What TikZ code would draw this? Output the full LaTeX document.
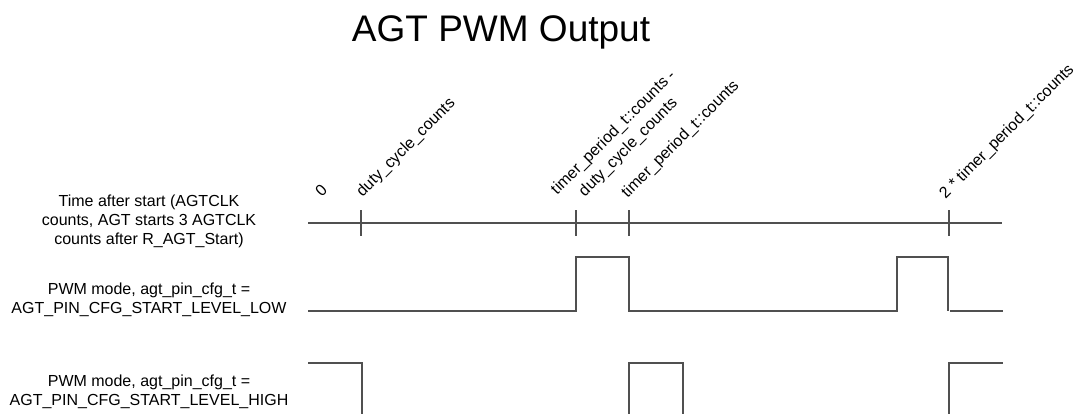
\documentclass[tikz,border=0pt]{standalone}
\usepackage{fontspec}
\setmainfont{Liberation Sans}
\definecolor{linegray}{RGB}{80,80,80}

\begin{document}
\begin{tikzpicture}[
    x=1pt, y=-1pt,
    rowlabel/.style={align=center, font=\fontsize{16}{19}\selectfont},
    ticklabel/.style={rotate=45, anchor=south west, inner sep=0pt, font=\fontsize{16}{19}\selectfont},
    axis/.style={line width=1.4pt, draw=linegray},
    wave/.style={line width=1.5pt, draw=linegray}
]
\useasboundingbox (0,0) rectangle (1075,414);

\node[anchor=base, font=\fontsize{37}{41}\selectfont] (title) at (501,42) {AGT PWM Output};

% row labels
\node[rowlabel] (timelbl) at (149,221) {Time after start (AGTCLK\\counts, AGT starts 3 AGTCLK\\counts after R\_AGT\_Start)};
\node[rowlabel] (lowlbl) at (149,300) {PWM mode, agt\_pin\_cfg\_t =\\AGT\_PIN\_CFG\_START\_LEVEL\_LOW};
\node[rowlabel] (highlbl) at (149,392) {PWM mode, agt\_pin\_cfg\_t =\\AGT\_PIN\_CFG\_START\_LEVEL\_HIGH};

% time axis
\coordinate (axstart) at (308,223);
\coordinate (axend) at (1002,223);
\draw[axis] (axstart) -- (axend);
\foreach \x in {361,576,629,949}
    \draw[axis] (\x,210) -- (\x,236);

\node[ticklabel] (lzero) at (322,198) {0};
\node[ticklabel] (lduty) at (365,200) {duty\_cycle\_counts};
\node[ticklabel, anchor=south, align=center, font=\fontsize{16}{21}\selectfont] (ldiff) at (634,153) {timer\_period\_t::counts -\\duty\_cycle\_counts};
\node[ticklabel] (lperiod) at (630,201) {timer\_period\_t::counts};
\node[ticklabel] (ltwo) at (948,202) {2 * timer\_period\_t::counts};

% start level low
\draw[wave] (308,311) -- (576,311) -- (576,257) -- (629,257) -- (629,311)
    -- (897,311) -- (897,257) -- (948,257) -- (948,311);
\draw[wave] (950,311) -- (1003,311);

% start level high
\draw[wave] (308,363) -- (362,363) -- (362,414);
\draw[wave] (629,414) -- (629,363) -- (683,363) -- (683,414);
\draw[wave] (949,414) -- (949,363) -- (1003,363);
\end{tikzpicture}
\end{document}
